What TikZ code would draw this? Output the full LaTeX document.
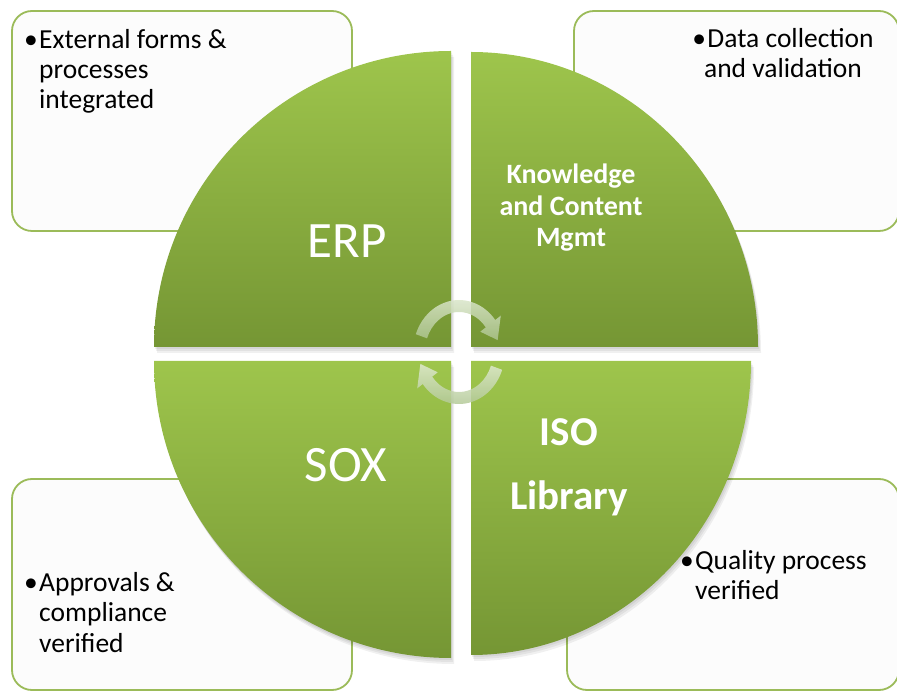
\documentclass[tikz,border=0pt]{standalone}
\usepackage{fontspec}
\setmainfont{Carlito}
\definecolor{qlight}{RGB}{158,197,76}
\definecolor{qdark}{RGB}{117,150,52}
\definecolor{boxline}{RGB}{155,187,89}
\definecolor{boxfill}{RGB}{252,252,252}
\definecolor{arrlight}{RGB}{224,234,210}
\definecolor{arrdark}{RGB}{172,196,142}
\newcommand\pathTL{(451,344) -- (154,344) arc[start angle=180,end angle=90,x radius=297,y radius=296] -- cycle}
\newcommand\pathTR{(471,344) -- (471,639) arc[start angle=90,end angle=0,x radius=287,y radius=295] -- cycle}
\newcommand\pathBR{(471,330) -- (751,330) arc[start angle=0,end angle=-90,x radius=280,y radius=294] -- cycle}
\newcommand\pathBL{(451,330) -- (451,33) arc[start angle=-90,end angle=-180,x radius=297,y radius=297] -- cycle}
\newcommand\bul{\leavevmode\llap{•\hspace{1.5pt}}}
\tikzset{
  infobox/.style={draw=boxline, line width=1.8pt, fill=boxfill, rounded corners=20pt},
  qshadow/.style={fill=black, opacity=0.06},
  quadrant/.style={top color=qlight, bottom color=qdark},
  qlabel/.style={text=white, inner sep=0, anchor=base, font=\fontsize{51}{56}\selectfont},
  qlabelbold/.style={text=white, inner sep=0, anchor=base},
  boxtext/.style={inner sep=0, anchor=base west, font=\fontsize{27.5}{30}\selectfont},
  cyclearrow/.style={top color=arrlight, bottom color=arrdark, opacity=0.85}
}
\begin{document}
\begin{tikzpicture}[x=1pt,y=1pt]
\useasboundingbox (0,0) rectangle (897,691);
\clip (0,0) rectangle (897,691);
% info boxes
\draw[infobox] (12,460) rectangle (352,680);
\draw[infobox] (574,460) rectangle (899,680);
\draw[infobox] (12,1) rectangle (352,212);
\draw[infobox] (567,1) rectangle (899,212);
% shadows
\foreach \dx/\dy in {1/-2,2/-4,3/-6}{
  \fill[qshadow,shift={(\dx,\dy)}] \pathTL;
  \fill[qshadow,shift={(\dx,\dy)}] \pathTR;
  \fill[qshadow,shift={(\dx,\dy)}] \pathBR;
  \fill[qshadow,shift={(\dx,\dy)}] \pathBL;
}
% quadrants
\shade[quadrant] \pathTL;
\shade[quadrant] \pathTR;
\shade[quadrant] \pathBR;
\shade[quadrant] \pathBL;
% quadrant labels
\node[qlabel] (erp) at (347,433) {ERP};
\node[qlabel] (sox) at (346,209) {SOX};
\node[qlabelbold] (kcm) at (571,507) {\parbox[t]{200pt}{\centering\bfseries\fontsize{28}{31.5}\selectfont Knowledge\\and Content\\Mgmt}};
\node[qlabelbold] (iso) at (569,245) {\parbox[t]{200pt}{\centering\bfseries\fontsize{41}{64}\selectfont ISO\\Library}};
% box texts
\node[boxtext] (t1) at (39,642) {\parbox[t]{300pt}{\raggedright\bul External forms \&\\processes\\integrated}};
\node[boxtext, anchor=base] (t2) at (783,643) {\parbox[t]{260pt}{\centering •\hspace{1.5pt}Data collection\\and validation}};
\node[boxtext] (t3) at (39,99) {\parbox[t]{300pt}{\raggedright\bul Approvals \&\\compliance\\verified}};
\node[boxtext] (t4) at (695,121) {\parbox[t]{200pt}{\raggedright\bul Quality process\\verified}};
% cycle arrows
\begin{scope}[shift={(459,339)}]
  \shade[cyclearrow] (160:46 and 52) arc[start angle=160,end angle=38,x radius=46,y radius=52]
    -- (38:53 and 59) -- (15:40 and 46) -- (38:27 and 33) -- (38:34 and 40)
    arc[start angle=38,end angle=160,x radius=34,y radius=40] -- cycle;
  \shade[cyclearrow] (-20:46 and 52) arc[start angle=-20,end angle=-142,x radius=46,y radius=52]
    -- (-142:53 and 59) -- (-165:40 and 46) -- (-142:27 and 33) -- (-142:34 and 40)
    arc[start angle=-142,end angle=-20,x radius=34,y radius=40] -- cycle;
\end{scope}
\end{tikzpicture}
\end{document}
